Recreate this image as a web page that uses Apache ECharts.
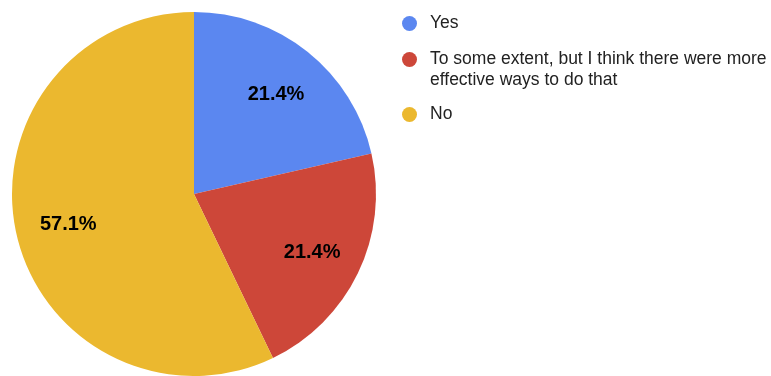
<!DOCTYPE html>
<html>
<head>
<meta charset="utf-8">
<script src="https://cdn.jsdelivr.net/npm/echarts@6/dist/echarts.min.js"></script>
<style>
  html, body { margin: 0; padding: 0; background: #fff; }
  #chart { width: 771px; height: 376px; }
</style>
</head>
<body>
<div id="chart"></div>
<script>
// Survey answers and how many respondents picked each one
const answers = ['Yes', 'To some extent, but I think there were more effective ways to do that', 'No'];
const counts = [3, 3, 8];
const colors = ['#5b87f0', '#cd4739', '#ebb82f'];
// Legend lines for each answer (the long one wraps onto a second line)
const legendLines = [['Yes'], ['To some extent, but I think there were more', 'effective ways to do that'], ['No']];

const pieData = answers.map((name, i) => ({ name, value: counts[i], itemStyle: { color: colors[i] } }));
const total = counts.reduce((a, b) => a + b, 0);

const FONT = 'Arial, "Liberation Sans", sans-serif';
const LINE = 21;

// One legend block per answer; wrapped entries get an empty spacer line on top
// so the marker lines up with the first line of text.
const legendTops = [13, 28, 104];
const legends = answers.map((name, i) => {
  const lines = legendLines[i];
  const spacer = lines.length > 1 ? new Array(lines.length - 1).fill('{s| }') : [];
  return {
    orient: 'vertical',
    left: 402,
    top: legendTops[i],
    padding: 0,
    icon: 'circle',
    itemWidth: 15,
    itemHeight: 15,
    selectedMode: false,
    data: [name],
    formatter: () => spacer.concat(lines.map(l => '{t|' + l + '}')).join('\n'),
    textStyle: {
      fontFamily: FONT,
      fontSize: 17.5,
      color: '#222',
      lineHeight: LINE,
      rich: {
        s: { fontSize: 17.5, lineHeight: LINE, padding: [0, 0, 0, 8] },
        t: { fontFamily: FONT, fontSize: 17.5, color: '#222', lineHeight: LINE, padding: [0, 0, 0, 8] }
      }
    }
  };
});

const chart = echarts.init(document.getElementById('chart'), null, { renderer: 'canvas' });
chart.setOption({
  animation: false,
  legend: legends,
  series: [
    {
      type: 'pie',
      center: [194, 194],
      radius: 182,
      startAngle: 90,
      clockwise: true,
      label: { show: false },
      labelLine: { show: false },
      emphasis: { disabled: true },
      data: pieData
    },
    {
      // Transparent ring carrying the percentage labels at its mid radius
      type: 'pie',
      center: [195, 196],
      radius: [72, 182],
      startAngle: 90,
      clockwise: true,
      silent: true,
      legendHoverLink: false,
      itemStyle: { color: 'rgba(0,0,0,0)' },
      label: {
        show: true,
        position: 'inside',
        formatter: p => (p.value / total * 100).toFixed(1) + '%',
        fontFamily: FONT,
        fontSize: 20,
        fontWeight: 'bold',
        color: '#000'
      },
      labelLine: { show: false },
      emphasis: { disabled: true },
      data: answers.map((name, i) => ({ name, value: counts[i] }))
    }
  ]
});
</script>
</body>
</html>
